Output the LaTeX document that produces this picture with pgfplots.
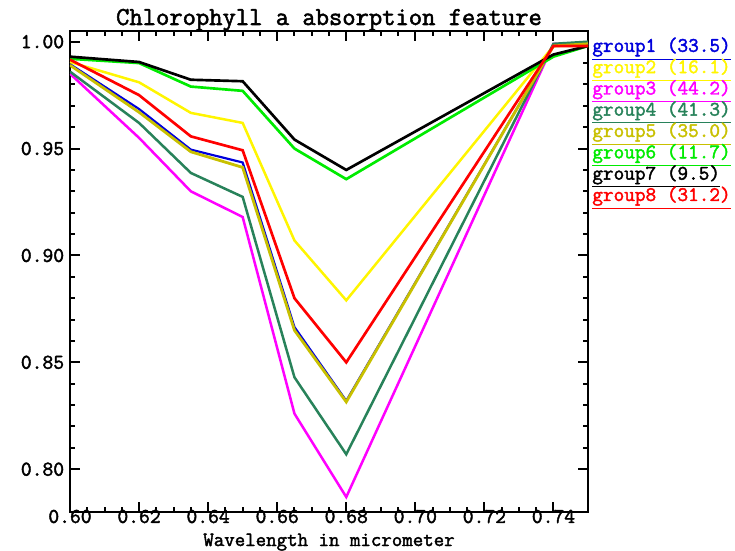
\documentclass[border=0pt]{standalone}
\usepackage{pgfplots}
\pgfplotsset{compat=1.18}
\usepackage{fontspec}
\newfontfamily\cour[FakeBold=2]{Latin Modern Mono}
\definecolor{g1}{RGB}{0,0,220}
\definecolor{g2}{RGB}{255,245,0}
\definecolor{g3}{RGB}{255,0,255}
\definecolor{g4}{RGB}{40,130,90}
\definecolor{g5}{RGB}{200,192,0}
\definecolor{g6}{RGB}{0,235,0}
\definecolor{g7}{RGB}{0,0,0}
\definecolor{g8}{RGB}{255,0,0}
\begin{document}
\begin{tikzpicture}
\useasboundingbox (-42pt,-22.8pt) rectangle (399pt,307.2pt);
\begin{axis}[
  at={(0pt,0pt)}, anchor=south west,
  width=310.8pt, height=288.6pt, scale only axis,
  xmin=0.60, xmax=0.75, ymin=0.78, ymax=1.005,
  xtick={0.60,0.62,0.64,0.66,0.68,0.70,0.72,0.74},
  ytick={0.80,0.85,0.90,0.95,1.00},
  minor x tick num=3, minor y tick num=4,
  xticklabel style={yshift=2.5pt, inner sep=1pt, /pgf/number format/.cd, fixed, fixed zerofill, precision=2},
  yticklabel style={/pgf/number format/.cd, fixed, fixed zerofill, precision=2},
  /pgf/number format/assume math mode=true,
  tick label style={font=\cour\fontsize{12.6}{12.6}\selectfont},
  title={Chlorophyll a absorption feature},
  title style={font=\cour\fontsize{15.5}{16}\selectfont, at={(0.5,1)}, anchor=base, yshift=-2.4pt},
  xlabel={Wavelength in micrometer},
  xlabel style={font=\cour\fontsize{12.2}{12.2}\selectfont, inner sep=0pt, at={(0.5,0)}, anchor=base, yshift=-20.4pt},
  axis line style={line width=1.6pt},
  major tick length=6pt, minor tick length=3pt,
  every tick/.style={black, line width=1.2pt},
]
\addplot[g1, line width=1.3pt] coordinates {(0.60,0.9895) (0.62,0.9685) (0.635,0.9495) (0.65,0.9435) (0.665,0.8665) (0.68,0.832) (0.74,0.998) (0.75,0.999)};
\addplot[g2, line width=1.5pt] coordinates {(0.60,0.9905) (0.62,0.981) (0.635,0.9667) (0.65,0.962) (0.665,0.907) (0.68,0.879) (0.74,0.998) (0.75,0.998)};
\addplot[g3, line width=1.5pt] coordinates {(0.60,0.985) (0.62,0.955) (0.635,0.930) (0.65,0.918) (0.665,0.826) (0.68,0.787) (0.74,0.999) (0.75,0.999)};
\addplot[g4, line width=1.5pt] coordinates {(0.60,0.986) (0.62,0.962) (0.635,0.9386) (0.65,0.9274) (0.665,0.843) (0.68,0.807) (0.74,0.999) (0.75,1.000)};
\addplot[g5, line width=1.7pt] coordinates {(0.60,0.989) (0.62,0.967) (0.635,0.9485) (0.65,0.9412) (0.665,0.865) (0.68,0.8315) (0.74,0.998) (0.75,0.999)};
\addplot[g6, line width=1.6pt] coordinates {(0.60,0.992) (0.62,0.990) (0.635,0.979) (0.65,0.977) (0.665,0.950) (0.68,0.9357) (0.74,0.993) (0.75,0.998)};
\addplot[g7, line width=1.6pt] coordinates {(0.60,0.993) (0.62,0.9905) (0.635,0.9822) (0.65,0.9815) (0.665,0.9542) (0.68,0.940) (0.74,0.994) (0.75,0.998)};
\addplot[g8, line width=1.6pt] coordinates {(0.60,0.9916) (0.62,0.975) (0.635,0.9557) (0.65,0.9492) (0.665,0.880) (0.68,0.850) (0.74,0.998) (0.75,0.998)};
\end{axis}
\begin{scope}[every node/.style={anchor=west, inner sep=0pt, font=\cour\fontsize{12.4}{13}\selectfont}]
\node[text=g1] at (313.2pt,278pt) {\underline{group1 (33.5)}};
\node[text=g2] at (313.2pt,265.2pt) {\underline{group2 (16.1)}};
\node[text=g3] at (313.2pt,252.4pt) {\underline{group3 (44.2)}};
\node[text=g4] at (313.2pt,239.7pt) {\underline{group4 (41.3)}};
\node[text=g5] at (313.2pt,226.9pt) {\underline{group5 (35.0)}};
\node[text=g6] at (313.2pt,214.1pt) {\underline{group6 (11.7)}};
\node[text=g7] at (313.2pt,201.3pt) {\underline{group7 (9.5)}};
\node[text=g8] at (313.2pt,188.5pt) {\underline{group8 (31.2)}};
\end{scope}
\end{tikzpicture}
\end{document}
